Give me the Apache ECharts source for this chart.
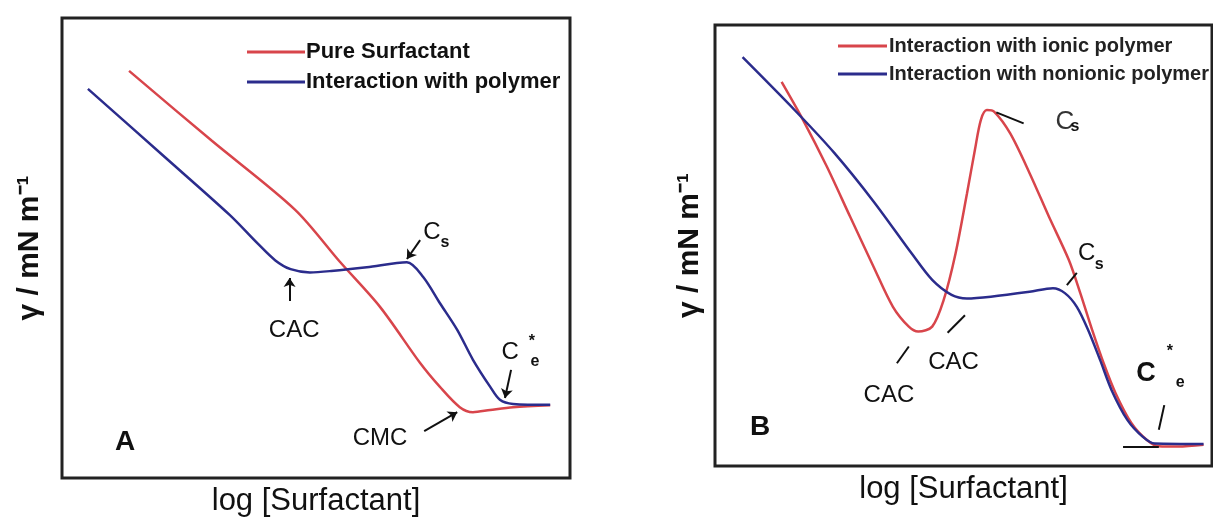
<!DOCTYPE html>
<html>
<head>
<meta charset="utf-8">
<script src="https://cdn.jsdelivr.net/npm/echarts@6/dist/echarts.min.js"></script>
<style>
  html, body { margin: 0; background: #fff; }
  #chart { width: 1213px; height: 522px; }
</style>
</head>
<body>
<div id="chart"></div>
<script>
// panel A: pure surfactant vs. surfactant + polymer (arbitrary units, 0-100)
const pureX = [13.2, 29.5, 45.9, 54.7, 62.6, 70.5, 74.4, 78.3, 80.9, 84.3, 88.8, 96.1]
const pureY = [88.5, 73.3, 58.3, 47.0, 37.2, 25.0, 19.8, 15.4, 14.3, 14.8, 15.4, 15.8]
const polyX = [5.1, 20.0, 33.0, 38.5, 42.0, 45.0, 48.8, 53.0, 60.0, 67.9, 71.1, 74.4, 77.8, 80.9, 84.3, 86.2, 88.8, 96.1]
const polyY = [84.6, 70.0, 57.2, 51.0, 47.3, 45.4, 44.7, 45.0, 45.8, 46.9, 43.7, 38.0, 32.2, 25.7, 19.8, 17.0, 16.1, 15.9]

// panel B: ionic vs. nonionic polymer
const ionicX = [13.4, 17.7, 22.5, 27.2, 31.9, 35.8, 39.0, 40.9, 43.7, 46.0, 48.4, 50.7, 52.3, 53.5, 54.7, 56.2, 59.4, 63.3, 67.2, 71.2, 73.5, 75.9, 78.2, 80.6, 83.8, 86.9, 89.3, 93.2, 98.3]
const ionicY = [87.1, 78.5, 67.9, 56.5, 45.2, 36.1, 31.6, 30.5, 31.6, 37.6, 48.2, 61.8, 71.7, 78.5, 80.7, 80.3, 75.4, 66.4, 56.5, 46.7, 39.2, 30.8, 23.3, 16.5, 9.7, 5.9, 4.5, 4.4, 4.8]
const nonionicX = [5.55, 16.2, 24.0, 31.9, 39.7, 43.7, 47.6, 50.7, 55.5, 63.3, 68.0, 70.4, 72.8, 75.1, 77.5, 79.8, 83.0, 86.1, 88.5, 98.3]
const nonionicY = [92.7, 80.5, 71.0, 60.0, 48.0, 42.2, 38.8, 38.0, 38.4, 39.5, 40.3, 39.2, 36.1, 30.8, 24.0, 17.2, 10.4, 6.6, 5.1, 5.0]

const legendA = ['Pure Surfactant', 'Interaction with polymer']
const legendB = ['Interaction with ionic polymer', 'Interaction with nonionic polymer']
const xTitle = 'log [Surfactant]'
const yTitle = 'γ / mN m⁻¹'

// annotations [text, x, y, kind]
const notesA = [
  ['CAC', 45.7, 32.0, 'txt'],
  ['C', 72.8, 53.3, 'txt'],
  ['s', 75.4, 51.1, 'sub'],
  ['C', 88.2, 27.4, 'txt'],
  ['*', 92.5, 29.6, 'sub'],
  ['e', 93.1, 25.2, 'sub'],
  ['CMC', 62.6, 8.7, 'txt'],
  ['A', 12.4, 7.8, 'panel']
]
const arrowsA = [
  [44.8, 38.5, 44.8, 43.5],
  [70.5, 51.7, 67.9, 47.6],
  [88.4, 23.5, 87.2, 17.4],
  [71.3, 10.2, 77.8, 14.3]
]
const notesB = [
  ['C', 70.4, 78.1, 'thin'],
  ['s', 72.4, 76.9, 'sub'],
  ['C', 74.8, 48.3, 'txt'],
  ['s', 77.3, 45.6, 'sub'],
  ['CAC', 48.0, 23.6, 'txt'],
  ['CAC', 35.0, 16.1, 'txt'],
  ['C', 86.7, 20.9, 'bold'],
  ['*', 91.5, 25.9, 'sub'],
  ['e', 93.6, 18.8, 'sub'],
  ['B', 9.1, 8.8, 'panel']
]
const arrowsB = [
  [62.1, 77.7, 56.6, 80.2],
  [72.8, 43.8, 70.8, 41.0],
  [46.8, 30.2, 50.3, 34.2],
  [36.6, 23.3, 39.0, 27.1],
  [90.4, 13.8, 89.3, 8.2],
  [82.1, 4.3, 89.3, 4.3]
]

const RED = '#d8454b'
const BLUE = '#2b2c8c'
const FONT = 'Liberation Sans, Arial, sans-serif'

const zip = (xs, ys) => xs.map((x, i) => [x, ys[i]])

const noteStyle = {
  txt: { fontSize: 24, fontWeight: 'normal' },
  thin: { fontSize: 26, fontWeight: 'normal', color: '#333' },
  bold: { fontSize: 27, fontWeight: 'bold' },
  sub: { fontSize: 16, fontWeight: 'bold' },
  panel: { fontSize: 28, fontWeight: 'bold' }
}

const markPoints = (notes) => ({
  silent: true,
  symbol: 'circle',
  symbolSize: 1,
  itemStyle: { color: 'rgba(0,0,0,0)' },
  data: notes.map(([t, x, y, k]) => ({
    coord: [x, y],
    label: Object.assign({
      show: true, position: 'inside', formatter: t,
      color: '#111', fontFamily: FONT
    }, noteStyle[k])
  }))
})

const markLines = (arrows, head) => ({
  silent: true,
  symbol: ['none', head ? 'arrow' : 'none'],
  symbolSize: 9,
  label: { show: false },
  lineStyle: { color: '#111', width: 2, type: 'solid' },
  data: arrows.map(([x1, y1, x2, y2]) => [{ coord: [x1, y1] }, { coord: [x2, y2] }])
})

const lineSeries = (name, data, color, idx) => ({
  name, type: 'line', data, smooth: 0.3, symbol: 'none',
  xAxisIndex: idx, yAxisIndex: idx,
  lineStyle: { color, width: 2.5 }, itemStyle: { color },
  animation: false, z: 3
})

const axisX = (idx) => ({
  type: 'value', gridIndex: idx, min: 0, max: 100,
  axisLine: { show: false }, axisTick: { show: false },
  axisLabel: { show: false }, splitLine: { show: false },
  name: xTitle, nameLocation: 'middle', nameGap: 8,
  nameTextStyle: { fontSize: 31, color: '#111', fontFamily: FONT, verticalAlign: 'top' }
})
const axisY = (idx, gap) => ({
  type: 'value', gridIndex: idx, min: 0, max: 100,
  axisLine: { show: false }, axisTick: { show: false },
  axisLabel: { show: false }, splitLine: { show: false },
  name: yTitle, nameLocation: 'middle', nameGap: gap, nameRotate: 90,
  nameTextStyle: { fontSize: 30, fontWeight: 'bold', color: '#111', fontFamily: FONT }
})

const chart = echarts.init(document.getElementById('chart'))

const options = {
  backgroundColor: '#fff',
  animation: false,
  grid: [
    { left: 62, top: 18, width: 508, height: 460, show: true, borderColor: '#222', borderWidth: 3, backgroundColor: '#fff' },
    { left: 715, top: 25, width: 497, height: 441, show: true, borderColor: '#222', borderWidth: 3, backgroundColor: '#fff' }
  ],
  legend: [
    {
      data: legendA, orient: 'vertical', left: 242, top: 36,
      icon: 'rect', itemWidth: 58, itemHeight: 3, itemGap: 8,
      textStyle: { fontSize: 22, lineHeight: 22, fontWeight: 'bold', color: '#111', fontFamily: FONT, padding: [0, 0, 0, -4] }
    },
    {
      data: legendB, orient: 'vertical', left: 833, top: 31,
      icon: 'rect', itemWidth: 49, itemHeight: 3, itemGap: 8,
      textStyle: { fontSize: 20, lineHeight: 20, fontWeight: 'bold', color: '#222', fontFamily: FONT, padding: [0, 0, 0, -3] }
    }
  ],
  xAxis: [axisX(0), axisX(1)],
  yAxis: [axisY(0, 17), axisY(1, 10)],
  series: [
    Object.assign(lineSeries(legendA[0], zip(pureX, pureY), RED, 0), {
      markPoint: markPoints(notesA), markLine: markLines(arrowsA, true)
    }),
    lineSeries(legendA[1], zip(polyX, polyY), BLUE, 0),
    Object.assign(lineSeries(legendB[0], zip(ionicX, ionicY), RED, 1), {
      markPoint: markPoints(notesB), markLine: markLines(arrowsB, false)
    }),
    lineSeries(legendB[1], zip(nonionicX, nonionicY), BLUE, 1)
  ]
}

chart.setOption(options)
</script>
</body>
</html>
